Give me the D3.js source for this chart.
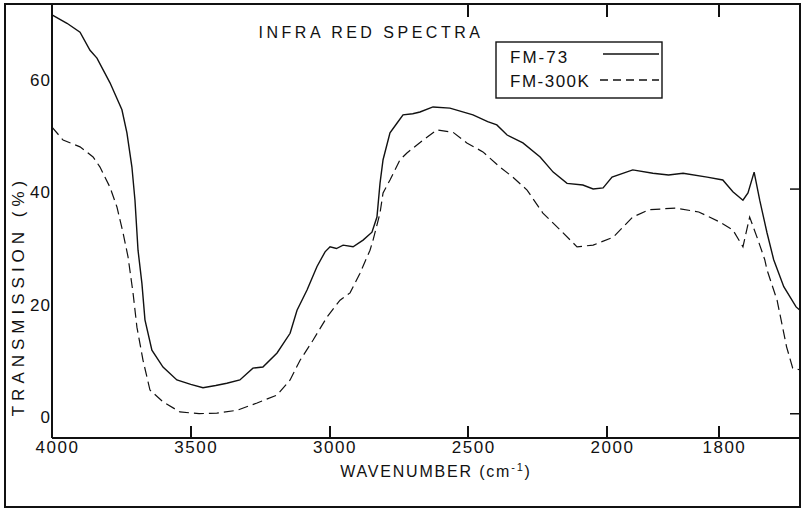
<!DOCTYPE html>
<html>
<head>
<meta charset="utf-8">
<script src="https://cdn.jsdelivr.net/npm/d3@7"></script>
<style>
  body { margin: 0; background: #fff; }
  text { font-family: "Liberation Sans", Arial, sans-serif; fill: #111; }
</style>
</head>
<body>
<div id="chart"></div>
<script>
// wavenumber (cm-1) and transmission (%)
const waveFM73 = [4000, 3946, 3899, 3863, 3838, 3791, 3748, 3730, 3712, 3701, 3690, 3676, 3665, 3640, 3600,
  3550, 3500, 3456, 3410, 3370, 3323, 3276, 3240, 3189, 3142, 3117, 3081, 3045, 3016, 2998, 2975, 2951,
  2915, 2879, 2847, 2829, 2818, 2807, 2782, 2757, 2735, 2700, 2674, 2627, 2566, 2483, 2430, 2397, 2360,
  2303, 2241, 2194, 2144, 2087, 2050, 2014, 1991, 1954, 1918, 1890, 1864, 1821, 1793, 1775, 1757, 1748,
  1737, 1727, 1714, 1702, 1684, 1662, 1655];
const transFM73 = [71.6, 70.1, 68.5, 65.3, 63.9, 59.5, 54.7, 50.6, 44.5, 38.6, 29.7, 23.8, 17.3, 11.9, 8.9,
  6.6, 5.8, 5.2, 5.6, 6.0, 6.6, 8.7, 8.9, 11.4, 14.9, 19.0, 22.6, 26.8, 29.4, 30.3, 30.0, 30.6,
  30.3, 31.5, 32.9, 35.6, 41.6, 45.8, 50.6, 52.3, 53.8, 54.0, 54.3, 55.2, 55.0, 53.8, 52.6, 52.0, 50.2,
  48.8, 46.3, 43.6, 41.6, 41.3, 40.6, 40.8, 42.7, 44.0, 43.4, 43.1, 43.4, 42.7, 42.2, 40.1, 38.6, 39.9,
  43.6, 38.6, 32.8, 28.0, 23.2, 19.6, 19.0];

const waveFM300K = [4000, 3960, 3899, 3852, 3827, 3791, 3766, 3744, 3726, 3708, 3694, 3672, 3647, 3600, 3539,
  3470, 3406, 3333, 3261, 3189, 3142, 3106, 3059, 3009, 2962, 2926, 2890, 2854, 2843, 2818, 2807, 2782,
  2746, 2721, 2663, 2613, 2555, 2505, 2447, 2386, 2339, 2288, 2231, 2169, 2108, 2050, 1989, 1954, 1925,
  1877, 1836, 1798, 1775, 1757, 1745, 1730, 1718, 1714, 1696, 1679, 1668, 1655];
const transFM300K = [51.6, 49.3, 48.1, 46.3, 44.5, 40.9, 37.4, 32.8, 28.5, 22.1, 16.0, 10.1, 4.8, 2.7, 0.9,
  0.6, 0.7, 1.2, 2.5, 3.9, 6.6, 10.1, 13.7, 17.8, 20.8, 22.1, 25.6, 29.7, 31.5, 36.3, 39.9, 42.2,
  45.8, 47.0, 49.3, 51.1, 50.7, 48.8, 47.2, 44.5, 42.7, 40.4, 36.3, 33.3, 30.3, 30.6, 32.0, 35.6, 36.9,
  37.2, 36.5, 34.7, 33.3, 30.3, 35.6, 31.5, 28.0, 26.2, 20.8, 12.5, 8.7, 8.4];

const xTicks = [4000, 3500, 3000, 2500, 2000, 1800];
const yTicks = [0, 20, 40, 60];
const topTicks = [2500, 2000, 1800];
const rightTicks = [0, 40];

const width = 801, height = 510;
const plotLeft = 52, plotRight = 800, plotTop = 4, plotBottom = 438;

const svg = d3.select('#chart')
  .append('svg')
  .attr('width', width)
  .attr('height', height);

// the chart paper doubles its scale below 2000 cm-1
const x = d3.scaleLinear()
  .domain([4000, 2000, 1655])
  .range([plotLeft, 607, plotRight]);

const y = d3.scaleLinear()
  .domain([0, 60])
  .range([417, 80]);

// outer frame
svg.append('rect')
  .attr('x', 5).attr('y', 4)
  .attr('width', 795).attr('height', 503)
  .attr('fill', 'none')
  .attr('stroke', '#111')
  .attr('stroke-width', 2);

// axes lines
svg.append('line').attr('x1', plotLeft).attr('x2', plotLeft).attr('y1', plotTop).attr('y2', plotBottom)
  .attr('stroke', '#111').attr('stroke-width', 2);
svg.append('line').attr('x1', plotLeft).attr('x2', plotRight).attr('y1', plotBottom).attr('y2', plotBottom)
  .attr('stroke', '#111').attr('stroke-width', 2);

// bottom tick labels
const xAxis = svg.append('g')
  .attr('transform', `translate(0,${plotBottom})`)
  .call(d3.axisBottom(x).tickValues(xTicks).tickFormat(d3.format('d')).tickSize(0).tickPadding(4));
xAxis.select('.domain').remove();
xAxis.selectAll('.tick line').remove();
xAxis.selectAll('.tick text')
  .attr('dx', 5)
  .attr('y', 3)
  .style('font-size', '17px')
  .style('letter-spacing', '1.5px')
  .attr('fill', '#111');

// bottom ticks pointing up into the plot
svg.append('g')
  .selectAll('rect')
  .data(xTicks.filter(d => d !== 4000))
  .join('rect')
    .attr('x', d => Math.round(x(d)) - 1)
    .attr('y', plotBottom - 12)
    .attr('width', 2)
    .attr('height', 12)
    .attr('fill', '#111');

// top ticks
svg.append('g')
  .selectAll('rect')
  .data(topTicks)
  .join('rect')
    .attr('x', d => Math.round(x(d)) - 1)
    .attr('y', plotTop)
    .attr('width', 2)
    .attr('height', 13)
    .attr('fill', '#111');

// right ticks
svg.append('g')
  .selectAll('rect')
  .data(rightTicks)
  .join('rect')
    .attr('x', plotRight - 10)
    .attr('y', d => y(d) - 4)
    .attr('width', 10)
    .attr('height', 1.5)
    .attr('fill', '#111');

// left axis labels
const yAxis = svg.append('g')
  .attr('transform', `translate(${plotLeft},0)`)
  .call(d3.axisLeft(y).tickValues(yTicks).tickSize(0).tickPadding(1));
yAxis.select('.domain').remove();
yAxis.selectAll('.tick text')
  .style('font-size', '17px')
  .style('letter-spacing', '1px')
  .attr('fill', '#111');

// spectra
const line = d3.line()
  .x(d => x(d[0]))
  .y(d => y(d[1]));

svg.append('path')
  .datum(d3.zip(waveFM73, transFM73))
  .attr('d', line)
  .attr('fill', 'none')
  .attr('stroke', '#111')
  .attr('stroke-width', 1.4);

svg.append('path')
  .datum(d3.zip(waveFM300K, transFM300K))
  .attr('d', line)
  .attr('fill', 'none')
  .attr('stroke', '#111')
  .attr('stroke-width', 1.2)
  .attr('stroke-dasharray', '10,5');

// title
svg.append('text')
  .attr('x', 371).attr('y', 38)
  .attr('text-anchor', 'middle')
  .style('font-size', '16px')
  .style('letter-spacing', '3.5px')
  .text('INFRA RED SPECTRA');

// legend
svg.append('rect')
  .attr('x', 496).attr('y', 42)
  .attr('width', 166).attr('height', 56)
  .attr('fill', '#fff')
  .attr('stroke', '#111')
  .attr('stroke-width', 1.4);

svg.append('text')
  .attr('x', 510).attr('y', 63)
  .style('font-size', '17px')
  .style('letter-spacing', '2px')
  .text('FM-73');
svg.append('line')
  .attr('x1', 603).attr('x2', 659).attr('y1', 54).attr('y2', 54)
  .attr('stroke', '#111').attr('stroke-width', 1.4);

svg.append('text')
  .attr('x', 510).attr('y', 87)
  .style('font-size', '17px')
  .style('letter-spacing', '1.5px')
  .text('FM-300K');
svg.append('line')
  .attr('x1', 600).attr('x2', 659).attr('y1', 80).attr('y2', 80)
  .attr('stroke', '#111').attr('stroke-width', 1.4)
  .attr('stroke-dasharray', '8,5');

// axis titles
const xt = svg.append('text')
  .attr('x', 436).attr('y', 477)
  .attr('text-anchor', 'middle')
  .style('font-size', '16px')
  .style('letter-spacing', '1.8px');
xt.append('tspan').text('WAVENUMBER  (cm');
xt.append('tspan').attr('dy', -6).style('font-size', '11px').text('-1');
xt.append('tspan').attr('dy', 6).text(')');

svg.append('text')
  .attr('transform', 'translate(24,296) rotate(-90)')
  .attr('text-anchor', 'middle')
  .style('font-size', '17px')
  .style('letter-spacing', '5px')
  .text('TRANSMISSION  (%)');
</script>
</body>
</html>
